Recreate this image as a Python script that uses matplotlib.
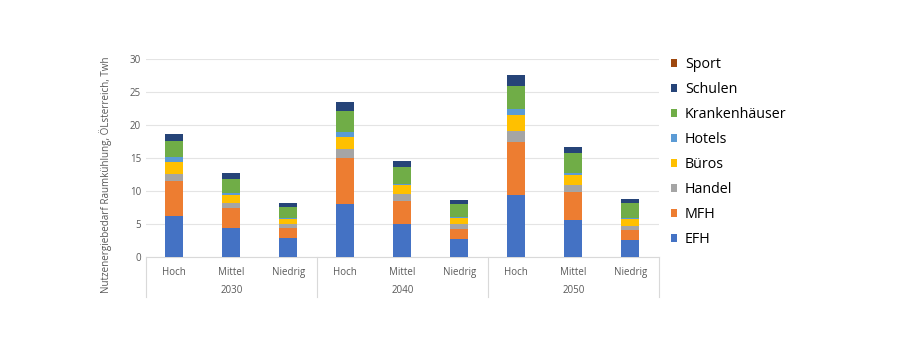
import numpy as np
import matplotlib.pyplot as plt
from matplotlib.patches import Patch

plt.rcParams['font.family'] = ['Open Sans', 'DejaVu Sans']

jahre = ["2030", "2040", "2050"]
szenarien = ["Hoch", "Mittel", "Niedrig"]

# Werte je Balken (2030 H/M/N, 2040 H/M/N, 2050 H/M/N), Twh
efh = [6.26, 4.39, 2.88, 8.03, 5.05, 2.78, 9.39, 5.60, 2.52]
mfh = [5.30, 2.98, 1.46, 6.92, 3.49, 1.46, 8.08, 4.20, 1.57]
handel = [1.02, 0.86, 0.61, 1.35, 1.01, 0.71, 1.67, 1.10, 0.66]
bueros = [1.77, 1.16, 0.76, 1.90, 1.31, 1.01, 2.36, 1.52, 1.01]
hotels = [0.75, 0.31, 0.14, 0.80, 0.24, 0.14, 0.92, 0.33, 0.09]
kranken = [2.48, 2.07, 1.78, 3.10, 2.54, 1.93, 3.54, 2.95, 2.38]
schulen = [1.06, 0.91, 0.55, 1.40, 0.91, 0.66, 1.62, 1.00, 0.61]
sport = [0.02, 0.01, 0.01, 0.02, 0.01, 0.01, 0.02, 0.01, 0.01]

serien = [("EFH", efh, "#4472C4"), ("MFH", mfh, "#ED7D31"),
          ("Handel", handel, "#A5A5A5"), ("Büros", bueros, "#FFC000"),
          ("Hotels", hotels, "#5B9BD5"), ("Krankenhäuser", kranken, "#70AD47"),
          ("Schulen", schulen, "#264478"), ("Sport", sport, "#9E480E")]

fig = plt.figure(figsize=(9, 3.6), dpi=100)
ax = fig.add_axes([0.162, 0.286, 0.570, 0.550])

x = np.arange(9)
unten = np.zeros(9)
for name, werte, farbe in serien:
    ax.bar(x, werte, 0.32, bottom=unten, color=farbe, zorder=3)
    unten += np.array(werte)

ax.set_ylim(0, 30)
ax.set_xlim(-0.5, 8.5)
ax.set_yticks(range(0, 31, 5))
ax.grid(axis="y", color="#E4E4E4", linewidth=0.8, zorder=0)
for s in ["top", "right", "left"]:
    ax.spines[s].set_visible(False)
ax.spines["bottom"].set_color("#D9D9D9")
ax.tick_params(axis="both", length=0, labelsize=7, labelcolor="#595959")
ax.tick_params(axis="x", pad=7)
ax.set_xticks(x)
ax.set_xticklabels(szenarien * 3)

# Trennlinien und Jahres-Beschriftung
tr = ax.get_xaxis_transform()
for xs in [-0.5, 2.5, 5.5, 8.5]:
    ax.plot([xs, xs], [0, -0.2], transform=tr, color="#D9D9D9",
            linewidth=0.8, clip_on=False)
for i, j in enumerate(jahre):
    ax.text(3 * i + 1, -0.17, j, transform=tr, ha="center", va="center",
            fontsize=7, color="#595959")

ax.set_ylabel("Nutzenergiebedarf Raumkühlung, ÖLsterreich, Twh",
              fontsize=7.1, color="#595959")
ax.yaxis.set_label_coords(-0.066, 0.414)

handles = [Patch(facecolor=f, label=n) for n, w, f in serien][::-1]
fig.legend(handles=handles, loc="upper left", bbox_to_anchor=(0.731, 0.878),
           frameon=False, fontsize=10.3, handlelength=0.45, handleheight=0.45,
           handletextpad=0.55, labelspacing=0.7)

fig.savefig("out.png", dpi=100)
